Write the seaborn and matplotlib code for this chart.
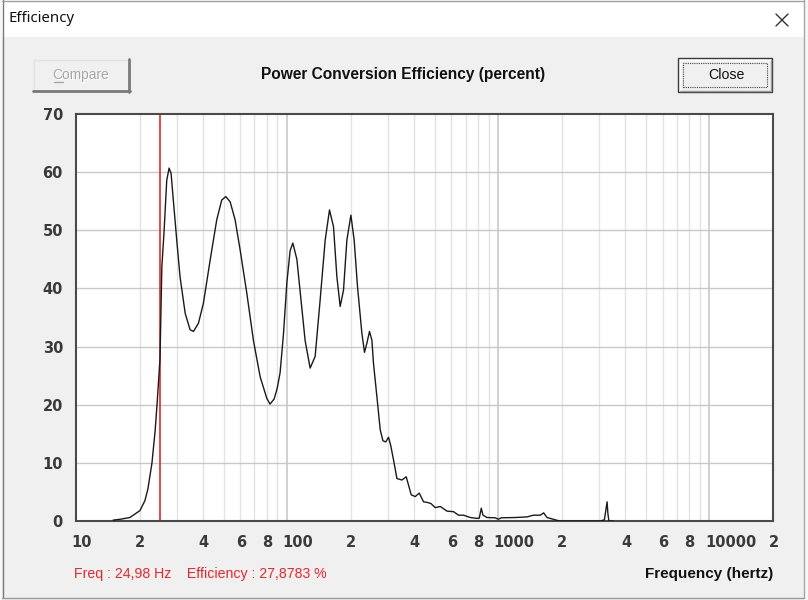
import matplotlib
matplotlib.use("Agg")
import matplotlib.pyplot as plt
import matplotlib.transforms as mtransforms
from matplotlib.patches import Rectangle
from matplotlib.lines import Line2D
from matplotlib.ticker import NullLocator
import seaborn as sns
import pandas as pd

# ---------------- data ----------------
freq_hz = [
    15.0, 16.2, 18.0, 20.1, 21.2, 21.9, 22.9, 23.7, 24.3, 24.7,
    25.0, 25.5, 26.1, 26.9, 27.6, 28.2, 28.9, 30.0, 31.1, 32.9,
    34.7, 36.0, 38.0, 40.1, 43.2, 46.4, 49.0, 51.2, 53.7, 56.7,
    59.9, 64.4, 69.2, 74.5, 80.1, 83.0, 86.8, 89.7, 92.6, 96.0,
    99.7, 103.3, 106.4, 111.2, 115.2, 121.7, 128.5, 135.7, 143.3, 151.4,
    158.7, 165.8, 172.0, 178.3, 184.9, 191.8, 200.4, 207.7, 215.4, 225.9,
    232.5, 238.6, 245.5, 252.0, 256.4, 266.1, 275.9, 284.2, 293.0, 302.1,
    309.4, 319.0, 331.1, 349.7, 366.4, 387.0, 404.3, 422.3, 442.6, 460.8,
    479.8, 502.8, 531.1, 571.3, 614.2, 648.4, 684.7, 736.9, 792.5, 812.8,
    830.7, 846.3, 884.1, 967.8, 1000, 1033, 1204, 1368, 1465, 1581,
    1640, 1701, 1822, 1904, 1967, 3044, 3180, 3214, 3275, 3304,
    3340, 3500,
]
efficiency_pct = [
    0.15, 0.3, 0.6, 1.8, 3.5, 5.5, 10, 15.5, 21, 25,
    28, 43.7, 49.5, 58.6, 60.7, 59.8, 55.2, 48.3, 42, 35.7,
    32.9, 32.6, 34, 37.4, 44.9, 51.8, 55.2, 55.8, 54.9, 51.8,
    46.6, 39.2, 31.1, 24.8, 21.1, 20.1, 21.0, 22.8, 25.5, 32,
    41, 46.5, 47.8, 45, 39.5, 31, 26.3, 28.3, 38, 48.3,
    53.5, 50.6, 42, 36.9, 39.7, 48.3, 52.6, 48.3, 40.3, 32.3,
    29, 30.6, 32.6, 31.1, 27.1, 21.4, 15.7, 13.8, 13.6, 14.4,
    13, 10.5, 7.3, 7.05, 7.6, 4.5, 4.2, 4.8, 3.3, 3.2,
    3.0, 2.3, 2.5, 1.7, 1.6, 1.0, 1.0, 0.6, 0.45, 0.5,
    2.2, 1.0, 0.6, 0.55, 0.3, 0.55, 0.6, 0.7, 1.0, 1.0,
    1.4, 0.6, 0.3, 0.1, 0, 0, 0.2, 1.3, 3.3, 1.3,
    0, 0,
]
cursor_freq = 24.98
cursor_eff = 27.8783

x_ticks = [10, 20, 40, 60, 80, 100, 200, 400, 600, 800,
           1000, 2000, 4000, 6000, 8000, 10000, 20000]
x_tick_labels = ["10", "2", "4", "6", "8", "100", "2", "4", "6", "8",
                 "1000", "2", "4", "6", "8", "10000", "2"]
y_ticks = [0, 10, 20, 30, 40, 50, 60, 70]
minor_grid = [m * d for d in (10, 100, 1000) for m in range(2, 10)]
major_grid = [100, 1000, 10000]

chart_title = "Power Conversion Efficiency (percent)"
x_title = "Frequency (hertz)"
window_title = "Efficiency"
status_text = "Freq : 24,98 Hz    Efficiency : 27,8783 %"

# ---------------- styling ----------------
sns.set_theme(style="white")
plt.rcParams["font.family"] = ["Liberation Sans", "DejaVu Sans"]

W, H = 808, 600
fig = plt.figure(figsize=(W / 100, H / 100), dpi=100)
fig.patch.set_facecolor("#f0f0f0")


def fx(x):
    return x / W


def fy(y):
    return 1 - y / H


def rect(x0, y0, x1, y1, **kw):
    r = Rectangle((fx(x0), fy(y1)), (x1 - x0) / W, (y1 - y0) / H,
                  transform=fig.transFigure, **kw)
    fig.add_artist(r)
    return r


def line(xs, ys, **kw):
    ln = Line2D([fx(v) for v in xs], [fy(v) for v in ys],
                transform=fig.transFigure, **kw)
    fig.add_artist(ln)
    return ln


# window chrome
rect(0, 0, 2, 600, facecolor="#f7f7f7", edgecolor="none")
rect(804, 0, 808, 600, facecolor="#f7f7f7", edgecolor="none")
rect(2, 0, 804, 37, facecolor="white", edgecolor="none")
line([2.5, 2.5], [0, 598], color="#7a7a7a", lw=1)
line([803.5, 803.5], [0, 598], color="#a8a8a8", lw=1)
line([2, 804], [598, 598], color="#9a9a9a", lw=1)
line([2, 804], [0.5, 0.5], color="#a0a0a0", lw=1)

fig.text(fx(8), fy(19), window_title, ha="left", va="center",
         fontsize=10.8, family=["Noto Sans", "DejaVu Sans"], color="#111111")
line([776, 788], [14, 26], color="#333333", lw=1)
line([776, 788], [26, 14], color="#333333", lw=1)

# Compare button (disabled)
rect(33, 59, 130, 92, facecolor="#f0f0f0", edgecolor="none")
line([33, 130], [59.5, 59.5], color="#e2e2e2", lw=1)
line([33.5, 33.5], [59, 92], color="#e2e2e2", lw=1)
line([33, 130], [91, 91], color="#7a7a7a", lw=2)
line([129, 129], [59, 92], color="#7a7a7a", lw=2)
fig.text(fx(81) + 1 / W, fy(75) - 1 / H, "Compare", ha="center", va="center",
         fontsize=9.9, color="white")
fig.text(fx(81), fy(75), "Compare", ha="center", va="center",
         fontsize=9.9, color="#a6a6a6")
line([54, 63], [81.5, 81.5], color="#a6a6a6", lw=1)

# Close button (default, focused)
rect(678, 58, 772, 92, facecolor="#f0f0f0", edgecolor="#3a3a3a", lw=1)
line([679.5, 770.5], [59.5, 59.5], color="white", lw=1)
line([679.5, 679.5], [59.5, 90.5], color="white", lw=1)
line([679.5, 770.5], [90.5, 90.5], color="#9a9a9a", lw=1)
line([770.5, 770.5], [59.5, 90.5], color="#9a9a9a", lw=1)
rect(683, 63, 767, 87, facecolor="none", edgecolor="#444444", lw=0.8,
     linestyle=(0, (1, 1)))
fig.text(fx(726), fy(75), "Close", ha="center", va="center",
         fontsize=10.2, color="#111111")

# chart title
fig.text(fx(403), fy(75), chart_title, ha="center", va="center",
         fontsize=11.2, fontweight="bold", color="#111111")

# ---------------- axes ----------------
ax = fig.add_axes([fx(76), fy(521), (773 - 76) / W, (521 - 114) / H])
ax.set_facecolor("white")
ax.set_xscale("log")
ax.set_xlim(10, 20000)
ax.set_ylim(0, 70)

for g in minor_grid:
    ax.axvline(g, color="#e3e3e3", lw=1, zorder=0.5)
for g in major_grid:
    ax.axvline(g, color="#c4c4c4", lw=1.1, zorder=0.6)
for g in y_ticks[1:-1]:
    ax.axhline(g, color="#c8c8c8", lw=1, zorder=0.6)

ax.axvline(cursor_freq, color="#e8262a", lw=1.2, zorder=1.5)

df = pd.DataFrame({"freq": freq_hz, "eff": efficiency_pct})
sns.lineplot(data=df, x="freq", y="eff", ax=ax, color="#1a1a1a", lw=1.0,
             estimator=None, sort=False, zorder=3)

for sp in ax.spines.values():
    sp.set_visible(True)
    sp.set_color("#4a4a4a")
    sp.set_linewidth(1.5)
    sp.set_zorder(2.5)

ax.set_xlabel("")
ax.set_ylabel("")
ax.set_yticks(y_ticks)
ax.set_xticks(x_ticks)
ax.set_xticklabels(x_tick_labels)
ax.xaxis.set_minor_locator(NullLocator())
ax.tick_params(axis="both", length=0, labelsize=10.5, labelcolor="#3a3a3a")
ax.tick_params(axis="y", pad=9.4)
ax.tick_params(axis="x", pad=9.8)
for lab in ax.get_xticklabels() + ax.get_yticklabels():
    lab.set_fontweight("bold")
    lab.set_family("DejaVu Sans")
shift = mtransforms.ScaledTranslation(-4.5 / 100, 0, fig.dpi_scale_trans)
for lab in ax.get_xticklabels():
    lab.set_horizontalalignment("left")
    lab.set_transform(lab.get_transform() + shift)

# status / axis title line
fig.text(fx(74), fy(574), status_text, ha="left", va="center",
         fontsize=10.2, color="#e8262a")
fig.text(fx(773), fy(574), x_title, ha="right", va="center",
         fontsize=11, fontweight="bold", color="#111111")

fig.savefig("out.png", dpi=100, facecolor=fig.get_facecolor())
